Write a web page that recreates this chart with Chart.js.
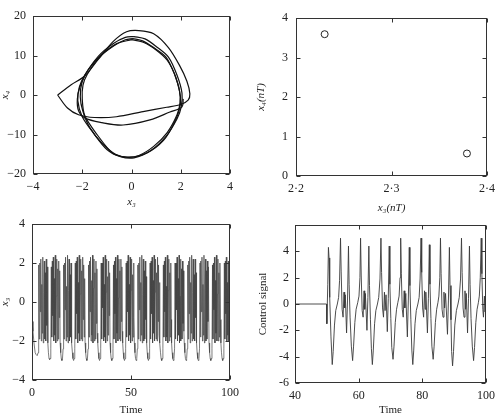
<!DOCTYPE html>
<html>
<head>
<meta charset="utf-8">
<script src="https://cdn.jsdelivr.net/npm/chart.js@4.4.1/dist/chart.umd.min.js"></script>
<style>
html, body { margin: 0; padding: 0; background: #fff; }
#wrap { position: relative; width: 501px; height: 416px; overflow: hidden; }
#wrap canvas { position: absolute; left: 0; top: 0; }
</style>
</head>
<body>
<div id="wrap">
  <canvas id="phase" width="501" height="416"></canvas>
  <canvas id="fixed" width="501" height="416"></canvas>
  <canvas id="state" width="501" height="416"></canvas>
  <canvas id="control" width="501" height="416"></canvas>
</div>
<script>
// top left: phase portrait x3 / x4
const phaseXTicks = [-4, -2, 0, 2, 4];
const phaseXLabels = ['−4', '−2', '0', '2', '4'];
const phaseYTicks = [-20, -10, 0, 10, 20];
const phaseYLabels = ['−20', '−10', '0', '10', '20'];
const phaseLoopA = [[0.05,14.3],[0.45,13.7],[0.9,12.0],[1.4,9.6],[1.75,5.2],[1.95,1.0],[1.97,-2.0],[1.85,-5.0],[1.45,-9.5],[0.9,-13.0],[0.3,-15.3],[-0.2,-15.7],[-0.75,-14.8],[-1.4,-10.0],[-1.9,-5.2],[-2.0,-1.0],[-1.97,2.5],[-1.8,5.2],[-1.3,9.6],[-0.7,12.5],[-0.25,14.0],[0.05,14.3]];
const phaseLoopB = [[0.1,14.8],[0.55,14.2],[1.0,12.3],[1.5,9.6],[1.85,5.0],[2.05,0.5],[2.02,-3.0],[1.85,-6.0],[1.4,-10.5],[0.8,-14.0],[0.1,-15.9],[-0.45,-15.6],[-1.0,-13.8],[-1.55,-9.6],[-2.0,-5.5],[-2.18,-1.5],[-2.12,2.0],[-1.9,5.0],[-1.35,9.8],[-0.75,13.0],[-0.25,14.6],[0.1,14.8]];
const phaseLoopC = [[0.0,14.0],[0.5,13.3],[1.0,11.4],[1.45,8.8],[1.8,4.5],[1.99,-0.5],[1.93,-4.0],[1.7,-7.5],[1.3,-11.5],[0.65,-14.6],[-0.1,-15.8],[-0.65,-15.0],[-1.2,-12.2],[-1.7,-8.2],[-1.98,-4.0],[-2.08,-0.5],[-2.0,3.5],[-1.75,6.5],[-1.25,10.0],[-0.6,13.0],[0.0,14.0]];
const phaseOuter = [[-3.0,0.0],[-2.45,2.6],[-1.9,4.8],[-1.35,9.0],[-0.75,13.5],[-0.2,16.0],[0.3,16.3],[0.9,15.5],[1.5,12.0],[1.95,7.5],[2.25,3.5],[2.37,0.3],[2.3,-1.3],[2.0,-2.4],[1.43,-3.1],[0.47,-4.2],[-0.61,-5.5],[-1.5,-5.7],[-2.15,-5.0],[-2.6,-3.3],[-3.0,0.0]];
const phaseCross = [[2.1,-1.0],[2.05,-3.0],[1.56,-4.3],[0.75,-6.3],[-0.34,-7.6],[-1.2,-7.0],[-1.9,-5.8],[-2.15,-4.0],[-2.2,-1.0],[-2.1,2.0],[-1.9,4.8]];

// top right: fixed points
const fixedXTicks = [2.2, 2.3, 2.4];
const fixedXLabels = ['2·2', '2·3', '2·4'];
const fixedYTicks = [0, 1, 2, 3, 4];
const fixedYLabels = ['0', '1', '2', '3', '4'];
const fixedPoints = [[2.23, 3.59], [2.379, 0.57]];

// bottom left: x3 against time
const stateXTicks = [0, 50, 100];
const stateXLabels = ['0', '50', '100'];
const stateYTicks = [-4, -2, 0, 2, 4];
const stateYLabels = ['−4', '−2', '0', '2', '4'];
const stateTrace = [
  [0,-1.0],[0.5,-1.5],[1.0,-2.1],[1.6,-2.6],[2.1,-2.7],[2.6,-2.75],[3.1,-2.6],[3.3,-2.0],
  [3.45,1.9],[3.7,-1.9],[3.95,2.0],[4.2,-0.5],[4.45,2.2],[4.7,-2.0],[4.95,0.9],[5.2,-1.6],[5.45,2.3],[5.7,-2.1],[5.95,0.5],[6.2,2.1],[6.45,-1.9],[6.7,1.5],[6.95,-2.0],[7.2,2.2],[7.45,-1.2],[7.7,1.8],[8.0,-2.1],
  [8.3,-2.6],[8.6,-2.9],[8.9,-2.95],[9.2,-2.9],[9.5,-2.4],
  [9.75,1.8],[10.0,-1.8],[10.25,2.1],[10.5,-0.7],[10.75,2.3],[11.0,-2.0],[11.25,1.2],[11.5,-1.7],[11.75,2.4],[12.0,-2.1],[12.25,0.3],[12.5,2.2],[12.75,-2.0],[13.0,1.7],[13.25,-1.9],[13.5,2.1],[13.75,-0.8],[14.0,1.6],[14.2,-2.1],
  [14.5,-2.6],[14.8,-2.9],[15.1,-3.0],[15.4,-2.9],[15.7,-2.4],
  [15.95,1.9],[16.2,-1.9],[16.45,2.0],[16.7,-0.4],[16.95,2.3],[17.2,-2.0],[17.45,0.8],[17.7,-1.8],[17.95,2.4],[18.2,-2.1],[18.45,0.6],[18.7,2.2],[18.95,-2.0],[19.2,1.4],[19.45,-1.8],[19.7,2.0],[19.9,-1.0],[20.1,-2.1],
  [20.4,-2.6],[20.7,-2.9],[21.0,-3.0],[21.3,-2.9],[21.6,-2.4],
  [21.85,2.0],[22.1,-1.9],[22.35,2.1],[22.6,-0.6],[22.85,2.3],[23.1,-2.1],[23.35,1.0],[23.6,-1.6],[23.85,2.4],[24.1,-2.0],[24.35,0.4],[24.6,2.2],[24.85,-1.9],[25.1,1.6],[25.35,-2.0],[25.6,2.3],[25.85,-0.9],[26.1,1.9],[26.35,-1.8],[26.6,1.2],[26.8,-2.1],
  [27.1,-2.6],[27.4,-2.9],[27.7,-3.0],[28.0,-2.9],[28.3,-2.4],
  [28.55,1.9],[28.8,-1.8],[29.05,2.1],[29.3,-0.5],[29.55,2.3],[29.8,-2.0],[30.05,1.1],[30.3,-1.7],[30.55,2.4],[30.8,-2.1],[31.05,0.7],[31.3,2.2],[31.55,-2.0],[31.8,1.5],[32.05,-1.9],[32.3,2.1],[32.55,-1.1],[32.8,1.7],[33.0,-1.6],[33.2,-2.1],
  [33.5,-2.6],[33.8,-2.9],[34.1,-3.0],[34.4,-2.9],[34.7,-2.4],
  [34.95,2.0],[35.2,-1.9],[35.45,2.0],[35.7,-0.3],[35.95,2.3],[36.2,-2.0],[36.45,0.9],[36.7,-1.8],[36.95,2.4],[37.2,-2.1],[37.45,0.5],[37.7,2.2],[37.95,-2.0],[38.2,1.3],[38.45,-1.7],[38.7,2.1],[38.95,-0.7],[39.2,1.5],[39.4,-2.1],
  [39.7,-2.6],[40.0,-2.9],[40.3,-3.0],[40.6,-2.9],[40.9,-2.4],
  [41.15,1.9],[41.4,-1.9],[41.65,2.1],[41.9,-0.6],[42.15,2.3],[42.4,-2.1],[42.65,1.2],[42.9,-1.6],[43.15,2.4],[43.4,-2.0],[43.65,0.2],[43.9,2.2],[44.15,-1.9],[44.4,1.6],[44.65,-2.0],[44.9,2.2],[45.15,-1.0],[45.4,1.8],[45.6,-1.5],[45.8,-2.1],
  [46.1,-2.6],[46.4,-2.9],[46.7,-3.0],[47.0,-2.9],[47.3,-2.4],
  [47.55,2.0],[47.8,-1.8],[48.05,2.1],[48.3,-0.5],[48.55,2.4],[48.8,-2.0],[49.05,0.9],[49.3,-1.7],[49.55,2.3],[49.8,-2.1],[50.05,0.6],[50.3,2.2],[50.55,-2.0],[50.8,1.4],[51.05,-1.8],[51.3,2.0],[51.5,-0.8],[51.7,-2.1],
  [52.0,-2.6],[52.3,-2.9],[52.6,-3.0],[52.9,-2.9],[53.2,-2.4],
  [53.45,1.9],[53.7,-1.9],[53.95,2.0],[54.2,-0.4],[54.45,2.3],[54.7,-2.0],[54.95,1.0],[55.2,-1.7],[55.45,2.4],[55.7,-2.1],[55.95,0.4],[56.2,2.2],[56.45,-2.0],[56.7,1.6],[56.95,-1.9],[57.2,2.1],[57.45,-0.9],[57.7,1.3],[57.9,-2.1],
  [58.2,-2.6],[58.5,-2.9],[58.8,-3.0],[59.1,-2.9],[59.4,-2.4],
  [59.65,2.0],[59.9,-1.9],[60.15,2.1],[60.4,-0.6],[60.65,2.3],[60.9,-2.1],[61.15,1.1],[61.4,-1.6],[61.65,2.4],[61.9,-2.0],[62.15,0.5],[62.4,2.2],[62.65,-1.9],[62.9,1.5],[63.15,-2.0],[63.4,2.3],[63.65,-1.0],[63.9,1.9],[64.15,-1.7],[64.4,1.0],[64.6,-2.1],
  [64.9,-2.6],[65.2,-2.9],[65.5,-3.0],[65.8,-2.9],[66.1,-2.4],
  [66.35,1.9],[66.6,-1.8],[66.85,2.1],[67.1,-0.5],[67.35,2.3],[67.6,-2.0],[67.85,0.8],[68.1,-1.8],[68.35,2.4],[68.6,-2.1],[68.85,0.6],[69.1,2.2],[69.35,-2.0],[69.6,1.5],[69.85,-1.8],[70.1,2.0],[70.3,-0.9],[70.5,-2.1],
  [70.8,-2.6],[71.1,-2.9],[71.4,-3.0],[71.7,-2.9],[72.0,-2.4],
  [72.25,2.0],[72.5,-1.9],[72.75,2.0],[73.0,-0.4],[73.25,2.3],[73.5,-2.0],[73.75,1.2],[74.0,-1.7],[74.25,2.4],[74.5,-2.1],[74.75,0.3],[75.0,2.2],[75.25,-2.0],[75.5,1.7],[75.75,-1.9],[76.0,2.1],[76.25,-1.1],[76.5,1.6],[76.7,-1.5],[76.9,-2.1],
  [77.2,-2.6],[77.5,-2.9],[77.8,-3.0],[78.1,-2.9],[78.4,-2.4],
  [78.65,1.9],[78.9,-1.9],[79.15,2.1],[79.4,-0.6],[79.65,2.3],[79.9,-2.1],[80.15,1.0],[80.4,-1.6],[80.65,2.4],[80.9,-2.0],[81.15,0.5],[81.4,2.2],[81.65,-1.9],[81.9,1.4],[82.15,-2.0],[82.4,2.2],[82.65,-0.8],[82.9,1.5],[83.1,-2.1],
  [83.4,-2.6],[83.7,-2.9],[84.0,-3.0],[84.3,-2.9],[84.6,-2.4],
  [84.85,2.0],[85.1,-1.8],[85.35,2.1],[85.6,-0.5],[85.85,2.3],[86.1,-2.0],[86.35,0.9],[86.6,-1.7],[86.85,2.4],[87.1,-2.1],[87.35,0.7],[87.6,2.2],[87.85,-2.0],[88.1,1.6],[88.35,-1.9],[88.6,2.1],[88.85,-1.0],[89.1,1.8],[89.4,-2.1],
  [89.7,-2.6],[90.0,-2.9],[90.3,-3.0],[90.6,-2.9],[90.9,-2.4],
  [91.15,1.9],[91.4,-1.9],[91.65,2.0],[91.9,-0.4],[92.15,2.3],[92.4,-2.1],[92.65,1.1],[92.9,-1.6],[93.15,2.4],[93.4,-2.0],[93.65,0.4],[93.9,2.2],[94.15,-2.0],[94.4,1.5],[94.65,-1.8],[94.9,2.0],[95.15,-0.9],[95.4,-2.1],
  [95.7,-2.6],[96.0,-2.9],[96.3,-3.0],[96.6,-2.9],[96.9,-2.4],
  [97.15,2.0],[97.4,-1.9],[97.65,2.1],[97.9,-0.6],[98.15,2.3],[98.4,-2.0],[98.65,1.0],[98.9,-1.7],[99.15,2.1],[99.4,-2.0],[99.65,0.5],[99.9,2.1],[100,-1.8]
];

// bottom right: control signal against time
const controlXTicks = [40, 60, 80, 100];
const controlXLabels = ['40', '60', '80', '100'];
const controlYTicks = [-6, -4, -2, 0, 2, 4, 6];
const controlYLabels = ['-6', '-4', '-2', '0', '2', '4', ''];
const controlTrace = [
  [40,0],[49.9,0],[50.0,-1.5],[50.3,1.5],[50.5,4.3],[50.7,3.5],[50.9,0.5],[51.3,-2.5],
  [51.7,-4.6],[52.0,-3.6],[52.4,-1.6],[52.8,-0.5],[53.3,0.0],[53.7,0.5],[54.0,1.8],[54.3,5.0],[54.5,2.5],[54.8,-0.4],[55.1,-1.0],[55.4,0.9],[55.6,-0.3],[55.8,0.7],[56.2,-2.2],[56.5,0.3],[56.8,4.4],[57.0,1.5],[57.3,-1.0],[57.7,-3.2],
  [58.1,-4.3],[58.4,-3.2],[58.8,-1.4],[59.2,-0.4],[59.7,0.1],[60.1,0.6],[60.4,2.0],[60.6,5.0],[60.8,2.2],[61.1,-0.5],[61.4,-1.0],[61.7,1.0],[61.9,-0.4],[62.1,0.8],[62.6,-2.0],[62.9,0.5],[63.2,4.4],[63.4,1.4],[63.7,-1.2],[64.0,-3.4],
  [64.3,-4.6],[64.6,-3.5],[65.0,-1.5],[65.4,-0.5],[65.9,0.0],[66.3,0.5],[66.7,1.9],[67.0,5.0],[67.2,2.4],[67.5,-0.3],[67.8,-1.0],[68.1,0.9],[68.3,-0.5],[68.6,0.7],[69.0,-2.1],[69.3,0.4],[69.6,4.4],[69.8,1.5],[70.1,-1.1],[70.4,-3.3],
  [70.8,-4.2],[71.1,-3.2],[71.5,-1.4],[71.9,-0.4],[72.3,0.1],[72.7,0.6],[73.0,2.0],[73.2,5.0],[73.4,2.3],[73.7,-0.4],[74.0,-1.0],[74.3,1.0],[74.5,-0.3],[74.8,0.8],[75.3,-2.5],[75.6,0.3],[75.9,4.3],[76.1,1.4],[76.4,-1.2],[76.7,-3.5],
  [77.0,-4.6],[77.3,-3.5],[77.7,-1.5],[78.1,-0.5],[78.6,0.0],[79.0,0.5],[79.3,1.9],[79.6,5.0],[79.8,2.4],[80.1,-0.3],[80.4,-1.0],[80.7,1.0],[80.9,-0.4],[81.1,0.9],[81.6,-2.2],[81.9,0.4],[82.2,4.5],[82.4,1.5],[82.7,-1.1],[83.0,-3.2],
  [83.4,-4.2],[83.7,-3.2],[84.1,-1.4],[84.5,-0.4],[84.9,0.1],[85.2,0.6],[85.5,2.0],[85.7,5.0],[85.9,2.3],[86.2,-0.4],[86.5,-1.0],[86.8,0.9],[87.0,-0.3],[87.3,0.8],[87.9,-2.3],[88.2,0.3],[88.5,4.3],[88.7,1.4],[89.0,-1.2],[89.2,-3.6],
  [89.5,-4.7],[89.8,-3.6],[90.2,-1.6],[90.7,-0.5],[91.2,0.0],[91.6,0.5],[92.0,1.9],[92.3,5.0],[92.5,2.4],[92.8,-0.3],[93.1,-1.0],[93.4,1.0],[93.6,-0.4],[93.8,0.8],[94.2,-2.2],[94.5,0.4],[94.8,4.4],[95.0,1.5],[95.3,-1.1],[95.7,-3.2],
  [96.1,-4.3],[96.4,-3.3],[96.8,-1.4],[97.2,-0.4],[97.6,0.1],[97.9,0.6],[98.2,2.0],[98.5,5.0],[98.7,2.3],[99.0,-0.4],[99.2,-1.0],[99.5,0.6],[99.7,-0.6],[100,0.5]
];

const serif = 'Liberation Serif';
const ink = '#222';

function axis(ticks, labels, size, pad, title, italic) {
  return {
    type: 'linear',
    min: ticks[0],
    max: ticks[ticks.length - 1],
    afterBuildTicks: s => { s.ticks = ticks.map(v => ({ value: v })); },
    afterFit: s => { if (s.isHorizontal()) s.height = size; else s.width = size; },
    grid: { display: false, drawTicks: false },
    border: { display: false },
    ticks: {
      color: ink, padding: pad, maxRotation: 0, autoSkip: false,
      font: { family: serif, size: 12 },
      callback: (v, i) => labels[i]
    },
    title: {
      display: true, text: title, color: ink, padding: 0,
      font: { family: serif, size: 11, lineHeight: 1, style: italic ? 'italic' : 'normal' }
    }
  };
}

// box round the plot and short ticks pointing inward on all four sides
const framePlugin = {
  id: 'frame',
  afterDatasetsDraw(chart) {
    const { ctx, chartArea: a, scales: { x, y } } = chart;
    const L = Math.round(a.left) + 0.5, R = Math.round(a.right) - 0.5;
    const T = Math.round(a.top) + 0.5, B = Math.round(a.bottom) - 0.5;
    ctx.save();
    ctx.strokeStyle = '#333';
    ctx.lineWidth = 1;
    ctx.strokeRect(L, T, R - L, B - T);
    ctx.beginPath();
    x.ticks.forEach(t => {
      const px = Math.round(x.getPixelForValue(t.value)) + 0.5;
      ctx.moveTo(px, B); ctx.lineTo(px, B - 4);
      ctx.moveTo(px, T); ctx.lineTo(px, T + 4);
    });
    y.ticks.forEach(t => {
      const py = Math.round(y.getPixelForValue(t.value)) + 0.5;
      ctx.moveTo(L, py); ctx.lineTo(L + 4, py);
      ctx.moveTo(R, py); ctx.lineTo(R - 4, py);
    });
    ctx.stroke();
    ctx.restore();
  }
};

function pts(list) { return list.map(p => ({ x: p[0], y: p[1] })); }
function curve(list, width, color, tension) {
  return { data: pts(list), showLine: true, pointRadius: 0, borderColor: color, borderWidth: width, tension: tension };
}

function baseOptions(padding, xAxis, yAxis) {
  return {
    responsive: false,
    animation: false,
    events: [],
    layout: { padding: padding },
    plugins: { legend: { display: false }, tooltip: { enabled: false } },
    scales: { x: xAxis, y: yAxis }
  };
}

new Chart(document.getElementById('phase'), {
  type: 'scatter',
  data: {
    datasets: [
      curve(phaseLoopA, 1.2, '#111', 0.3),
      curve(phaseLoopB, 1.2, '#111', 0.3),
      curve(phaseLoopC, 1.2, '#111', 0.3),
      curve(phaseOuter, 1.2, '#111', 0.3),
      curve(phaseCross, 1.2, '#111', 0.35)
    ]
  },
  options: baseOptions({ left: 0, right: 271, top: 16, bottom: 208 },
    axis(phaseXTicks, phaseXLabels, 34, 6, 'x₃', true),
    axis(phaseYTicks, phaseYLabels, 33, 7, 'x₄', true)),
  plugins: [framePlugin]
});

new Chart(document.getElementById('fixed'), {
  type: 'scatter',
  data: {
    datasets: [{
      data: pts(fixedPoints),
      pointRadius: 3.5,
      pointStyle: 'circle',
      borderColor: '#222',
      backgroundColor: '#fff',
      borderWidth: 1
    }]
  },
  options: baseOptions({ left: 256, right: 10, top: 18, bottom: 202 },
    axis(fixedXTicks, fixedXLabels, 38, 6, 'x₃(nT)', true),
    axis(fixedYTicks, fixedYLabels, 40, 8, 'x₄(nT)', true)),
  plugins: [framePlugin]
});

new Chart(document.getElementById('state'), {
  type: 'scatter',
  data: { datasets: [curve(stateTrace, 0.7, '#444', 0)] },
  options: baseOptions({ left: 0, right: 271, top: 224, bottom: 0 },
    axis(stateXTicks, stateXLabels, 36, 6, 'Time', false),
    axis(stateYTicks, stateYLabels, 32, 7, 'x₃', true)),
  plugins: [framePlugin]
});

new Chart(document.getElementById('control'), {
  type: 'scatter',
  data: { datasets: [curve(controlTrace, 0.9, '#3a3a3a', 0)] },
  options: baseOptions({ left: 258, right: 10, top: 225, bottom: 0 },
    axis(controlXTicks, controlXLabels, 33, 6, 'Time', false),
    axis(controlYTicks, controlYLabels, 37, 6, 'Control signal', false)),
  plugins: [framePlugin]
});
</script>
</body>
</html>
